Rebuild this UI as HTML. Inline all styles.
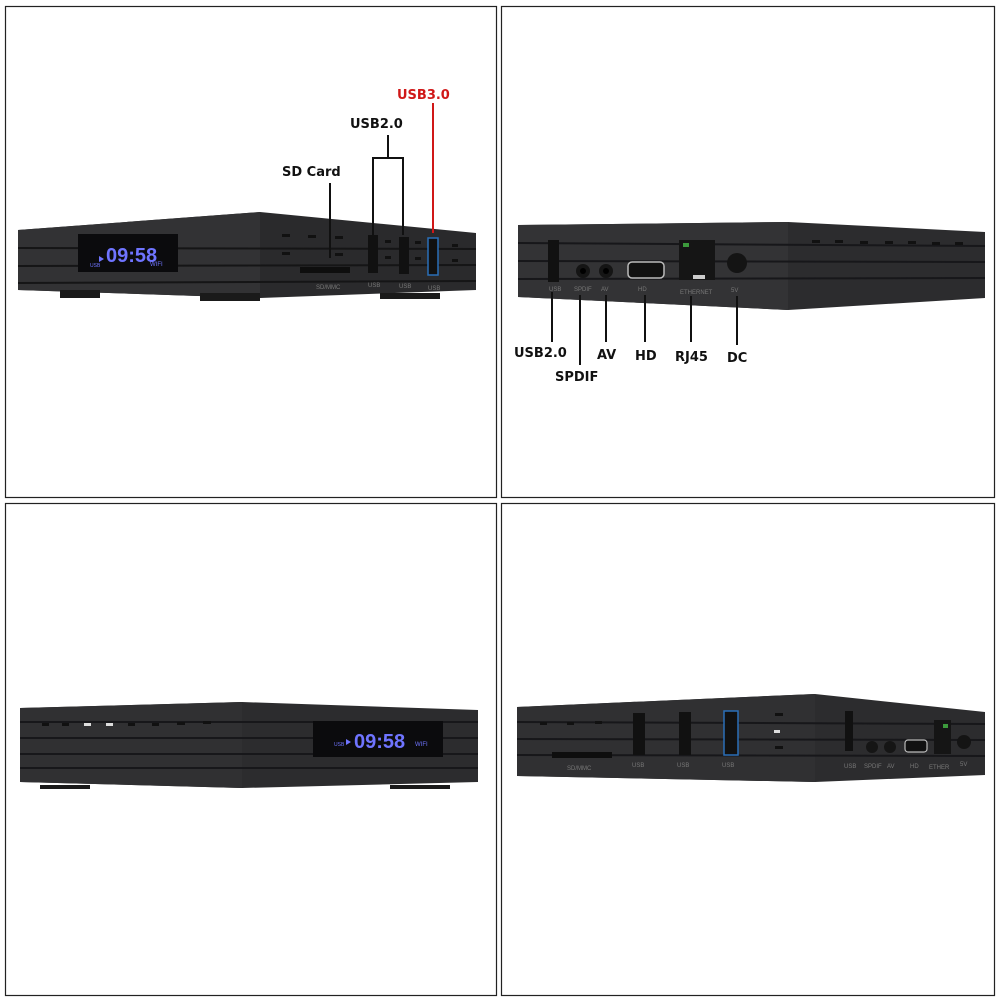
<!DOCTYPE html>
<html><head><meta charset="utf-8"><style>
html,body{margin:0;padding:0;background:#fff;}
svg{display:block;}
text{font-family:"Liberation Sans",sans-serif;}
.lbl{font-family:"DejaVu Sans","Liberation Sans",sans-serif;font-weight:bold;font-size:13px;fill:#111;}
.sm{font-size:6px;fill:#777;}
</style></head><body>
<svg width="1000" height="1000" viewBox="0 0 1000 1000">
<rect width="1000" height="1000" fill="#fff"/>
<rect x="5.5" y="6.5" width="491" height="491" fill="none" stroke="#222" stroke-width="1.2"/>
<rect x="501.5" y="6.5" width="493" height="491" fill="none" stroke="#222" stroke-width="1.2"/>
<rect x="5.5" y="503.5" width="491" height="492" fill="none" stroke="#222" stroke-width="1.2"/>
<rect x="501.5" y="503.5" width="493" height="492" fill="none" stroke="#222" stroke-width="1.2"/>

<!-- Box 1 -->
<polygon points="18,230 260,212 476,233 476,290 260,298 18,290" fill="#2a2a2c"/>
<polygon points="18,230 260,212 260,298 18,290" fill="#323234"/>
<g stroke="#151516" stroke-width="2">
<line x1="18" y1="248" x2="476" y2="249"/><line x1="18" y1="266" x2="476" y2="265"/><line x1="18" y1="283" x2="476" y2="281"/>
</g>
<rect x="60" y="290" width="40" height="8" fill="#1a1a1a"/><rect x="200" y="293" width="60" height="8" fill="#1a1a1a"/><rect x="380" y="293" width="60" height="6" fill="#1a1a1a"/>
<rect x="78" y="234" width="100" height="38" fill="#0b0b0d"/>
<text x="106" y="262" font-size="20" font-weight="bold" fill="#6f74ff" font-family="Liberation Mono,monospace">09:58</text>
<text x="90" y="267" font-size="5" fill="#6f74ff">USB</text><text x="150" y="266" font-size="6" fill="#6f74ff">WIFI</text>
<polygon points="99,256 104,259 99,262" fill="#6f74ff"/>
<g fill="#111"><rect x="282" y="234" width="8" height="3"/><rect x="308" y="235" width="8" height="3"/><rect x="335" y="236" width="8" height="3"/><rect x="282" y="252" width="8" height="3"/><rect x="335" y="253" width="8" height="3"/><rect x="385" y="240" width="6" height="3"/><rect x="385" y="256" width="6" height="3"/><rect x="415" y="241" width="6" height="3"/><rect x="415" y="257" width="6" height="3"/><rect x="452" y="244" width="6" height="3"/><rect x="452" y="259" width="6" height="3"/></g>
<rect x="300" y="267" width="50" height="6" fill="#0e0e0e"/>
<rect x="368" y="235" width="10" height="38" fill="#111"/><rect x="399" y="237" width="10" height="37" fill="#111"/>
<rect x="428" y="238" width="10" height="37" fill="#111" stroke="#2a6fb8" stroke-width="1.5"/>
<text x="316" y="289" class="sm">SD/MMC</text><text x="368" y="287" class="sm">USB</text><text x="399" y="288" class="sm">USB</text><text x="428" y="290" class="sm">USB</text>
<g stroke="#111" stroke-width="2" fill="none">
<line x1="330" y1="183" x2="330" y2="258"/>
<polyline points="373,235 373,158 403,158 403,235"/><line x1="388" y1="158" x2="388" y2="135"/>
</g>
<line x1="433" y1="103" x2="433" y2="233" stroke="#d01818" stroke-width="2"/>
<text x="282" y="176" class="lbl">SD Card</text>
<text x="350" y="128" class="lbl">USB2.0</text>
<text x="397" y="99" class="lbl" style="fill:#d01818">USB3.0</text>

<!-- Box 2 -->
<polygon points="518,225 788,222 985,232 985,298 788,310 518,297" fill="#2c2c2e"/>
<polygon points="518,225 788,222 788,310 518,297" fill="#333335"/>
<g stroke="#17171a" stroke-width="2">
<line x1="518" y1="243" x2="985" y2="246"/><line x1="518" y1="261" x2="985" y2="262"/><line x1="518" y1="279" x2="985" y2="278"/>
</g>
<g fill="#111"><rect x="812" y="240" width="8" height="3"/><rect x="835" y="240" width="8" height="3"/><rect x="860" y="241" width="8" height="3"/><rect x="885" y="241" width="8" height="3"/><rect x="908" y="241" width="8" height="3"/><rect x="932" y="242" width="8" height="3"/><rect x="955" y="242" width="8" height="3"/></g>
<rect x="548" y="240" width="11" height="42" fill="#111"/>
<circle cx="583" cy="271" r="7" fill="#151515"/><circle cx="583" cy="271" r="3" fill="#000"/>
<circle cx="606" cy="271" r="7" fill="#151515"/><circle cx="606" cy="271" r="3" fill="#000"/>
<rect x="628" y="262" width="36" height="16" rx="4" fill="#111" stroke="#bbb" stroke-width="1.5"/>
<rect x="679" y="240" width="36" height="40" fill="#151515"/><rect x="683" y="243" width="6" height="4" fill="#3c9a3c"/><rect x="693" y="275" width="12" height="4" fill="#ccc"/>
<circle cx="737" cy="263" r="10" fill="#141414"/>
<text x="549" y="291" class="sm">USB</text><text x="574" y="291" class="sm">SPDIF</text><text x="601" y="291" class="sm">AV</text><text x="638" y="291" class="sm">HD</text><text x="680" y="294" class="sm">ETHERNET</text><text x="731" y="292" class="sm">5V</text>
<g stroke="#111" stroke-width="2">
<line x1="552" y1="292" x2="552" y2="342"/><line x1="580" y1="295" x2="580" y2="365"/><line x1="606" y1="295" x2="606" y2="342"/><line x1="645" y1="295" x2="645" y2="342"/><line x1="691" y1="296" x2="691" y2="342"/><line x1="737" y1="296" x2="737" y2="345"/>
</g>
<text x="514" y="357" class="lbl">USB2.0</text><text x="555" y="381" class="lbl">SPDIF</text><text x="597" y="359" class="lbl">AV</text><text x="635" y="360" class="lbl">HD</text><text x="675" y="361" class="lbl">RJ45</text><text x="727" y="362" class="lbl">DC</text>

<!-- Box 3 -->
<polygon points="20,708 242,702 478,710 478,782 242,788 20,782" fill="#2c2c2e"/>
<polygon points="20,708 242,702 242,788 20,782" fill="#303032"/>
<g stroke="#17171a" stroke-width="2">
<line x1="20" y1="722" x2="478" y2="722"/><line x1="20" y1="738" x2="478" y2="738"/><line x1="20" y1="754" x2="478" y2="754"/><line x1="20" y1="768" x2="478" y2="768"/>
</g>
<g fill="#111"><rect x="42" y="723" width="7" height="3"/><rect x="62" y="723" width="7" height="3"/><rect x="84" y="723" width="7" height="3" fill="#ddd"/><rect x="106" y="723" width="7" height="3" fill="#ddd"/><rect x="128" y="723" width="7" height="3"/><rect x="152" y="723" width="7" height="3"/><rect x="177" y="722" width="8" height="3"/><rect x="203" y="721" width="8" height="3"/></g>
<rect x="40" y="785" width="50" height="4" fill="#1a1a1a"/><rect x="390" y="785" width="60" height="4" fill="#1a1a1a"/>
<rect x="313" y="721" width="130" height="36" fill="#0b0b0d"/>
<text x="354" y="748" font-size="20" font-weight="bold" fill="#6f74ff" font-family="Liberation Mono,monospace">09:58</text>
<text x="334" y="746" font-size="5" fill="#6f74ff">USB</text><text x="415" y="746" font-size="6" fill="#6f74ff">WIFI</text>
<polygon points="346,739 351,742 346,745" fill="#6f74ff"/>

<!-- Box 4 -->
<polygon points="517,707 815,694 985,712 985,775 815,782 517,776" fill="#2c2c2e"/>
<polygon points="517,707 815,694 815,782 517,776" fill="#303032"/>
<g stroke="#17171a" stroke-width="2">
<line x1="517" y1="722" x2="985" y2="724"/><line x1="517" y1="739" x2="985" y2="740"/><line x1="517" y1="755" x2="985" y2="756"/>
</g>
<rect x="552" y="752" width="60" height="6" fill="#0e0e0e"/>
<rect x="633" y="713" width="12" height="42" fill="#111"/><rect x="679" y="712" width="12" height="43" fill="#111"/>
<rect x="724" y="711" width="14" height="44" fill="#111" stroke="#2a6fb8" stroke-width="1.5"/>
<g fill="#111"><rect x="540" y="722" width="7" height="3"/><rect x="567" y="722" width="7" height="3"/><rect x="595" y="721" width="7" height="3"/><rect x="775" y="713" width="8" height="3"/><rect x="775" y="746" width="8" height="3"/></g>
<rect x="774" y="730" width="6" height="3" fill="#ddd"/>
<rect x="845" y="711" width="8" height="40" fill="#111"/>
<circle cx="872" cy="747" r="6" fill="#151515"/><circle cx="890" cy="747" r="6" fill="#151515"/>
<rect x="905" y="740" width="22" height="12" rx="3" fill="#111" stroke="#bbb" stroke-width="1.2"/>
<rect x="934" y="720" width="17" height="34" fill="#151515"/><rect x="943" y="724" width="5" height="4" fill="#3c9a3c"/>
<circle cx="964" cy="742" r="7" fill="#141414"/>
<text x="567" y="770" class="sm">SD/MMC</text><text x="632" y="767" class="sm">USB</text><text x="677" y="767" class="sm">USB</text><text x="722" y="767" class="sm">USB</text><text x="844" y="768" class="sm">USB</text><text x="864" y="768" class="sm">SPDIF</text><text x="887" y="768" class="sm">AV</text><text x="910" y="768" class="sm">HD</text><text x="929" y="769" class="sm">ETHER</text><text x="960" y="766" class="sm">5V</text>
</svg>
</body></html>
